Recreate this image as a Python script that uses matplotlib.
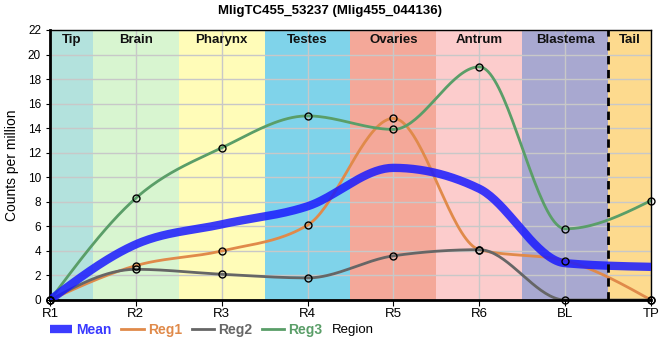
import numpy as np
import matplotlib
matplotlib.use("Agg")
import matplotlib.pyplot as plt
from matplotlib.lines import Line2D

plt.rcParams['font.family'] = ['Liberation Sans', 'DejaVu Sans']

categories = ["R1", "R2", "R3", "R4", "R5", "R6", "BL", "TP"]
reg1 = [0, 2.8, 4.0, 6.1, 14.8, 4.1, 3.2, 0]
reg2 = [0, 2.5, 2.1, 1.8, 3.6, 4.1, 0, 0]
reg3 = [0, 8.3, 12.4, 15.0, 13.9, 19.0, 5.8, 8.1]
mean = list(np.mean([reg1, reg2, reg3], axis=0))

region_names = ["Tip", "Brain", "Pharynx", "Testes", "Ovaries", "Antrum", "Blastema", "Tail"]
region_spans = [(0, 0.5), (0.5, 1.5), (1.5, 2.5), (2.5, 3.5), (3.5, 4.5), (4.5, 5.5), (5.5, 6.5), (6.5, 7)]
region_colors = ["#b3e2dd", "#d8f5d0", "#fffcb8", "#7fd3ea", "#f4a899", "#fccccc", "#a8a8d0", "#fdda8e"]


def monotone(xs, ys, n=40):
    xs = np.asarray(xs, float)
    ys = np.asarray(ys, float)
    h = np.diff(xs)
    s = np.diff(ys) / h
    m = np.zeros_like(ys)
    for i in range(1, len(xs) - 1):
        s0, s1 = s[i - 1], s[i]
        p = (s0 * h[i] + s1 * h[i - 1]) / (h[i - 1] + h[i])
        m[i] = (np.sign(s0) + np.sign(s1)) * min(abs(s0), abs(s1), 0.5 * abs(p))
    m[0] = (3 * s[0] - m[1]) / 2
    m[-1] = (3 * s[-1] - m[-2]) / 2
    outx, outy = [], []
    for i in range(len(xs) - 1):
        t = np.linspace(0, 1, n)
        x0, x1 = xs[i], xs[i + 1]
        dx = x1 - x0
        h00 = 2 * t**3 - 3 * t**2 + 1
        h10 = t**3 - 2 * t**2 + t
        h01 = -2 * t**3 + 3 * t**2
        h11 = t**3 - t**2
        outx.append(x0 + t * dx)
        outy.append(h00 * ys[i] + h10 * dx * m[i] + h01 * ys[i + 1] + h11 * dx * m[i + 1])
    return np.concatenate(outx), np.concatenate(outy)


fig = plt.figure(figsize=(6.6, 3.6), dpi=100)
ax = fig.add_axes([50 / 660, 60 / 360, 601 / 660, 270 / 360])

x = np.arange(len(categories))
for (a, b), c, name in zip(region_spans, region_colors, region_names):
    ax.axvspan(a, b, color=c, zorder=0.1, lw=0)
    ax.text((a + b) / 2, 21.2, name, ha='center', va='center', fontsize=9.5,
            fontweight='bold', color='#111111', zorder=5)

ax.set_axisbelow(True)
ax.grid(True, color='#c8c8c8', lw=1)

ax.axvline(6.5, color='black', lw=2, ls=(0, (3, 2)), zorder=4)

series = [
    (reg1, "#e08a4a", "Reg1"),
    (reg2, "#666666", "Reg2"),
    (reg3, "#5a9e68", "Reg3"),
]
mx, my = monotone(x, mean)
ax.plot(mx, my, color='#1a1aff', lw=6, alpha=0.85, zorder=3, solid_capstyle='butt')
for vals, col, lab in series:
    sx, sy = monotone(x, vals)
    ax.plot(sx, sy, color=col, lw=2, zorder=2.5)
    ax.plot(x, vals, 'o', mfc='none', mec='black', ms=5, mew=1, zorder=4, clip_on=False)

ax.set_xlim(0, 7)
ax.set_ylim(0, 22)
ax.set_xticks(x)
ax.set_xticklabels(categories, fontsize=9.5)
ax.set_yticks(np.arange(0, 23, 2))
ax.tick_params(axis='y', labelsize=8.5, length=3)
ax.tick_params(axis='x', length=4, pad=2)
for side in ['left', 'bottom']:
    ax.spines[side].set_linewidth(2)
for side in ['top', 'right']:
    ax.spines[side].set_linewidth(1)
ax.set_ylabel("Counts per million", fontsize=10, labelpad=6)

fig.suptitle("MligTC455_53237 (Mlig455_044136)", fontsize=9.5, fontweight='bold', y=0.985)

handles = [Line2D([], [], color='#1a1aff', lw=6, alpha=0.85, solid_capstyle='butt')] + \
          [Line2D([], [], color=c, lw=2) for _, c, _ in series]
labels = ["Mean", "Reg1", "Reg2", "Reg3"]
leg = fig.legend(handles, labels, loc='center left', bbox_to_anchor=(50 / 660, 1 - 330 / 360),
                 ncol=4, frameon=False, fontsize=10, handlelength=1.6, handletextpad=0.3,
                 columnspacing=0.7, borderaxespad=0, borderpad=0)
for t, c in zip(leg.get_texts(), ['#3a3aff', '#e08a4a', '#666666', '#5a9e68']):
    t.set_color(c)
    t.set_fontweight('bold')
fig.text(332 / 660, 1 - 330 / 360, "Region", fontsize=9.5, va='center', ha='left')

fig.savefig("out.png", dpi=100)
